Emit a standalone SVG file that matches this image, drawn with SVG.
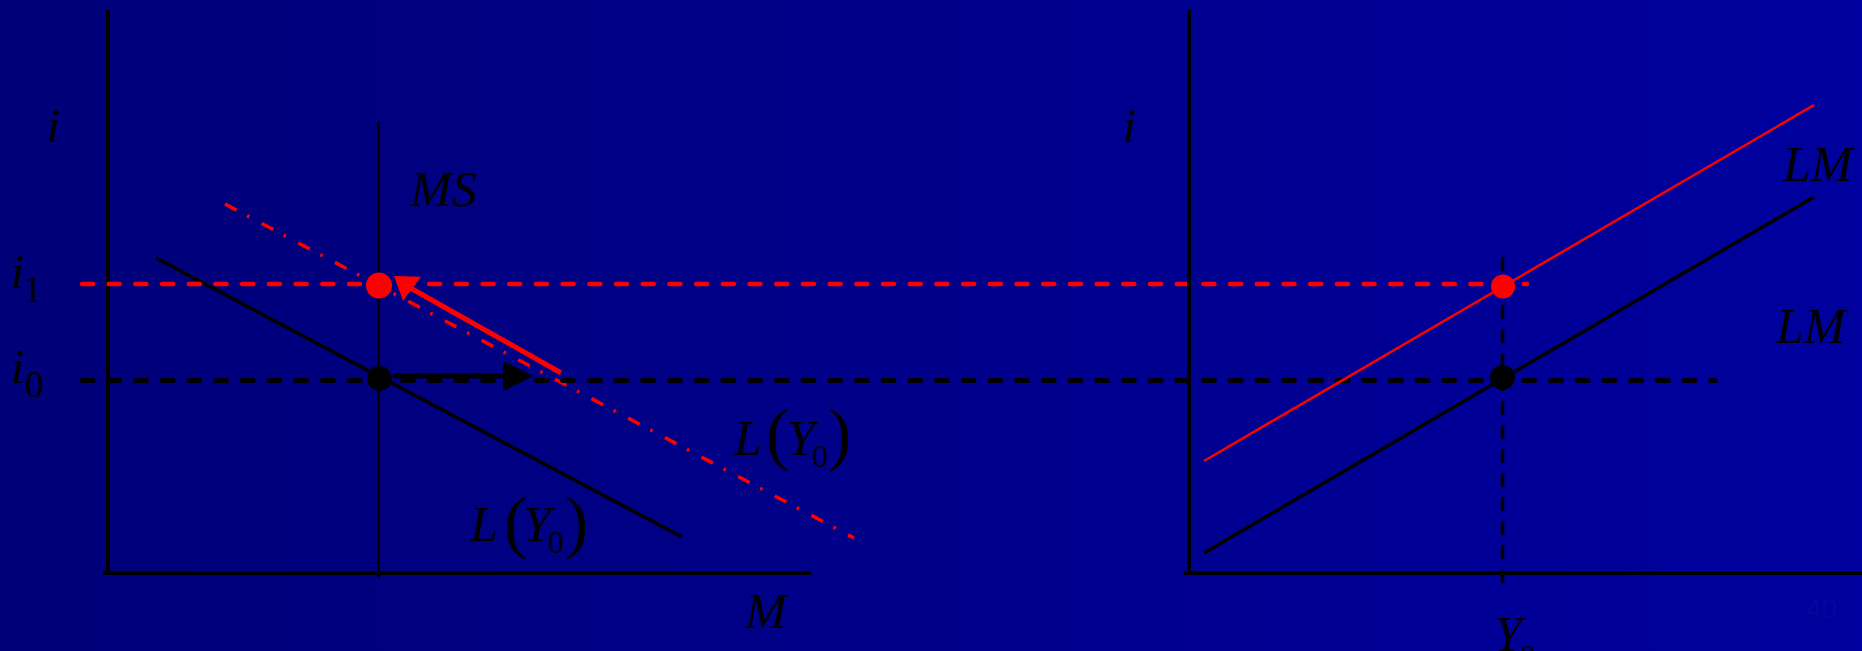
<svg xmlns="http://www.w3.org/2000/svg" width="1862" height="651" viewBox="0 0 1862 651">
<defs>
<linearGradient id="bg" x1="0" y1="0" x2="1" y2="0">
<stop offset="0" stop-color="#000078"/>
<stop offset="1" stop-color="#00009e"/>
</linearGradient>
<style>
.ax{stroke:#000;stroke-width:4;fill:none}
.blk{stroke:#000;stroke-width:3.5;fill:none}
.red{stroke:#ff0000;stroke-width:2.5;fill:none}
.rdash{stroke:#ff0000;stroke-width:4.5;stroke-dasharray:11 15.7;stroke-linecap:round;fill:none}
.bdash{stroke:#000;stroke-width:5;stroke-dasharray:11 15.7;stroke-linecap:round;fill:none}
.vdash{stroke:#000;stroke-width:3.5;stroke-dasharray:14 10;fill:none}
.dashdot{stroke:#ff0000;stroke-width:3.5;stroke-dasharray:13 12 2.5 14;fill:none}
.t{font-family:"Liberation Serif","Times New Roman",serif;font-style:italic;fill:#000;font-size:50px}
.n{font-family:"Liberation Serif","Times New Roman",serif;fill:#000}
.p{font-family:"Liberation Serif","Times New Roman",serif;fill:#000;font-size:70px}
</style>
</defs>
<rect x="0" y="0" width="1862" height="651" fill="url(#bg)"/>
<text x="1806" y="618" font-family="Liberation Sans, Arial, sans-serif" font-size="28" fill="#06069a">40</text>

<g id="connectors">
<line class="ax" x1="108" y1="10" x2="108" y2="573"/>
<line class="ax" x1="103" y1="573" x2="811" y2="573"/>
<line class="blk" x1="378.5" y1="121" x2="378.5" y2="578" style="stroke-width:3"/>
<line class="blk" x1="156" y1="258" x2="682" y2="537"/>
<line class="dashdot" x1="225" y1="204" x2="854" y2="538"/>
<line class="rdash" x1="82" y1="284" x2="1527" y2="284"/>
<line class="bdash" x1="82" y1="380.5" x2="1715" y2="380.5"/>
<line x1="393" y1="376" x2="506" y2="376" stroke="#000" stroke-width="5"/>
<polygon points="503,361 533,376 503,391" fill="#000"/>
<line x1="560.7" y1="372.7" x2="410" y2="287.7" stroke="#ff0000" stroke-width="5"/>
<polygon points="394,276 421,276.7 403,300.7" fill="#ff0000"/>
<line class="ax" x1="1189" y1="10" x2="1189" y2="573"/>
<line class="ax" x1="1184" y1="573" x2="1862" y2="573"/>
<line class="red" x1="1204" y1="461" x2="1814" y2="105"/>
<line class="blk" x1="1204" y1="553" x2="1814" y2="197"/>
<line class="vdash" x1="1502.5" y1="257" x2="1502.5" y2="593"/>
</g>

<g id="dot-left-i1"><circle cx="379" cy="285.5" r="13" fill="#ff0000"/></g>
<g id="dot-left-i0"><circle cx="379.5" cy="378.5" r="12.5" fill="#000"/></g>
<g id="dot-right-i1"><circle cx="1503" cy="286.5" r="12" fill="#ff0000"/></g>
<g id="dot-right-i0"><circle cx="1502.5" cy="377.5" r="12.5" fill="#000"/></g>

<g id="label-i-left"><text class="t" x="47" y="142" style="font-size:48px">i</text></g>
<g id="label-i1"><text class="t" x="11" y="288" style="font-size:48px">i</text><text class="n" x="23" y="302" font-size="38">1</text></g>
<g id="label-i0"><text class="t" x="11" y="383" style="font-size:48px">i</text><text class="n" x="25" y="397" font-size="38">0</text></g>
<g id="label-MS"><text class="t" x="410" y="206">MS</text></g>
<g id="label-M"><text class="t" x="745" y="628">M</text></g>
<g id="label-L-lower">
<text class="t" x="470" y="541">L</text>
<text class="p" x="504" y="545">(</text>
<text class="t" x="523" y="541">Y</text>
<text class="n" x="548" y="553" font-size="32">0</text>
<text class="p" x="565" y="545">)</text>
</g>
<g id="label-L-upper">
<text class="t" x="734" y="455">L</text>
<text class="p" x="766" y="457">(</text>
<text class="t" x="787" y="455">Y</text>
<text class="n" x="812" y="467" font-size="32">0</text>
<text class="p" x="828" y="457">)</text>
</g>
<g id="label-i-right"><text class="t" x="1123" y="142" style="font-size:48px">i</text></g>
<g id="label-LM-upper"><text class="t" x="1783" y="181">LM</text></g>
<g id="label-LM-lower"><text class="t" x="1776" y="343">LM</text></g>
<g id="label-Y0"><text class="t" x="1494" y="651">Y</text><text class="n" x="1520" y="667" font-size="32">0</text></g>
</svg>
